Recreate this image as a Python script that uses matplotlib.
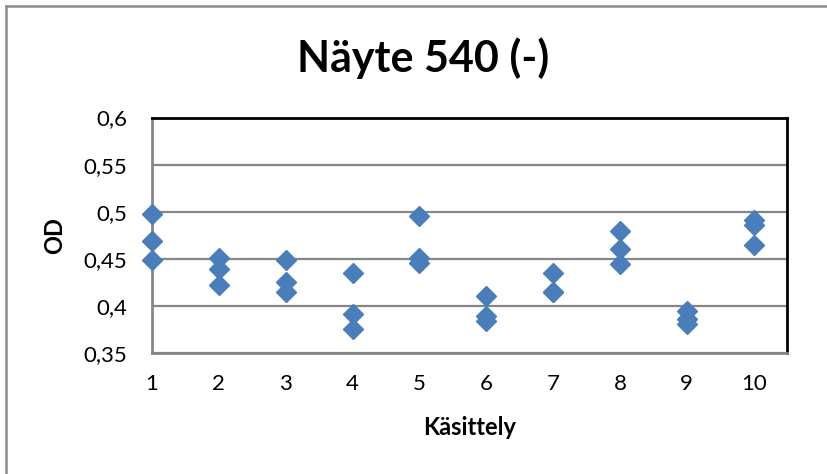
import matplotlib.pyplot as plt
from matplotlib.lines import Line2D
from matplotlib.ticker import FuncFormatter

# OD readings, three replicates per treatment
kasittely = [1, 2, 3, 4, 5, 6, 7, 8, 9, 10]
od_a = [0.498, 0.451, 0.449, 0.435, 0.495, 0.410, 0.435, 0.480, 0.395, 0.491]
od_b = [0.469, 0.439, 0.425, 0.391, 0.451, 0.389, 0.415, 0.460, 0.386, 0.486]
od_c = [0.449, 0.422, 0.415, 0.375, 0.446, 0.384, 0.415, 0.445, 0.381, 0.465]

y_ticks = [0.35, 0.4, 0.45, 0.5, 0.55, 0.6]

plt.rcParams['font.family'] = ['Lato', 'DejaVu Sans']

fig = plt.figure(figsize=(8.28, 4.74), dpi=100)
ax = fig.add_axes([152 / 828, 1 - 353 / 474, 635 / 828, 235.5 / 474])

blue = '#4a7ebb'
for vals in (od_a, od_b, od_c):
    ax.plot(kasittely, vals, linestyle='none', marker='D', markersize=10,
            color=blue, markeredgecolor=blue, clip_on=False, zorder=5)

ax.set_xlim(1, 10.5)
ax.set_ylim(0.35, 0.6)
ax.set_xticks(kasittely)
ax.set_yticks(y_ticks)
ax.yaxis.set_major_formatter(FuncFormatter(lambda v, p: ('%g' % v).replace('.', ',')))
ax.tick_params(length=0, labelsize=16, colors='black')
ax.tick_params(axis='y', pad=18)
ax.tick_params(axis='x', pad=15)

ax.grid(axis='y', color='#868686', linewidth=1.6)
ax.set_axisbelow(True)
for side in ('top', 'right'):
    ax.spines[side].set_color('black')
    ax.spines[side].set_linewidth(2)
for side in ('left', 'bottom'):
    ax.spines[side].set_color('#868686')
    ax.spines[side].set_linewidth(2)

ax.set_xlabel('Käsittely', fontsize=17, fontweight='bold', labelpad=16)
ax.set_ylabel('OD', fontsize=17, fontweight='bold', labelpad=12)

fig.text(423 / 828, 1 - 58 / 474, 'Näyte 540 (-)', fontsize=31, fontweight='bold',
         ha='center', va='center')

# chart area frame (only top and left edges show)
fig.add_artist(Line2D([6 / 828, 1], [1 - 6 / 474] * 2, color='#8c8c8c', linewidth=1.8))
fig.add_artist(Line2D([6 / 828] * 2, [0, 1 - 6 / 474], color='#8c8c8c', linewidth=1.8))

fig.savefig('out.png', dpi=100)
